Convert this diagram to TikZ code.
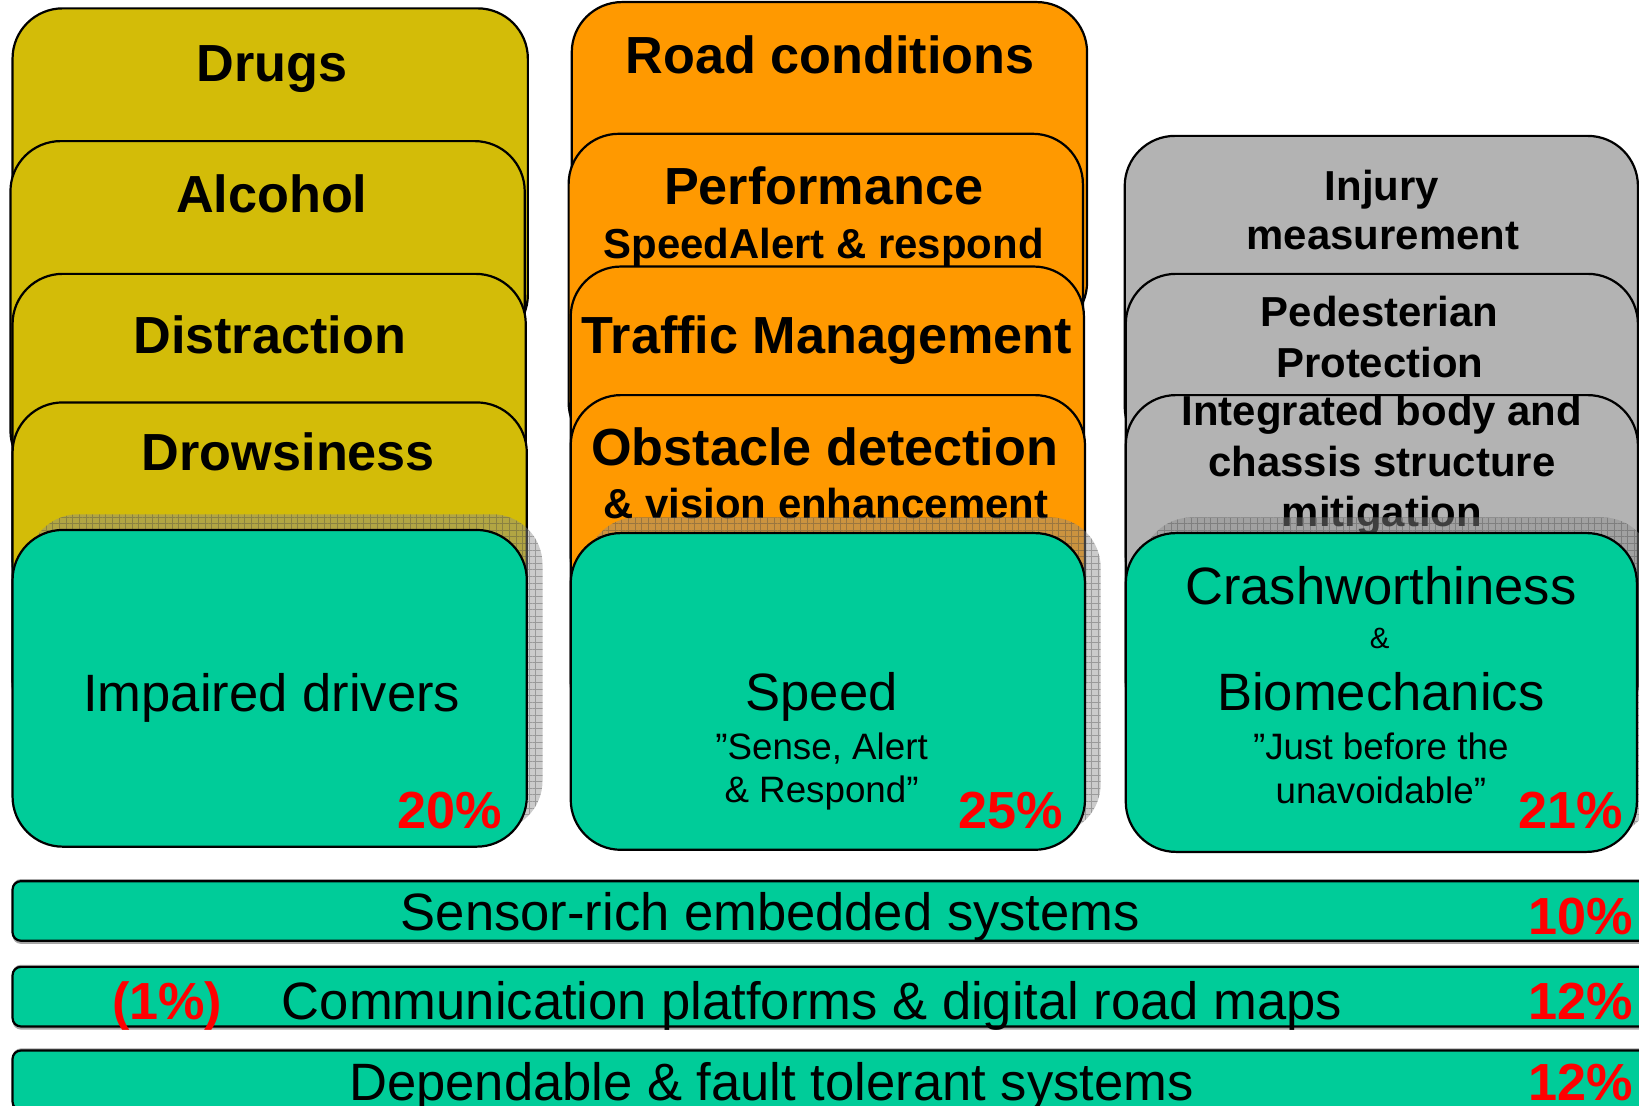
\documentclass[tikz,border=0pt]{standalone}
\usepackage{fontspec}
\setmainfont{Liberation Sans}
\usetikzlibrary{patterns.meta}
\definecolor{cyel}{HTML}{D3BC08}
\definecolor{corg}{HTML}{FF9900}
\definecolor{cgry}{HTML}{B3B3B3}
\definecolor{cgrn}{HTML}{00CC99}
\definecolor{cred}{HTML}{FF0000}
\tikzset{
  cardbox/.style={draw=black, line width=0.6pt, rounded corners=0.48cm},
  barbox/.style={draw=black, line width=0.6pt, rounded corners=0.08cm, fill=cgrn},
  shadowfill/.style={fill=gray!90, opacity=0.45, rounded corners=0.48cm},
  shadowgrid/.style={pattern={Hatch[angle=0,distance=1.8pt,line width=0.25pt]}, pattern color=gray!50!black, opacity=0.35, rounded corners=0.48cm},
  txt/.style={anchor=base, inner sep=0pt},
  bighead/.style={txt, font=\fontsize{14.2pt}{17pt}\selectfont\bfseries},
  midhead/.style={txt, font=\fontsize{11.4pt}{13.5pt}\selectfont\bfseries},
  regbig/.style={txt, font=\fontsize{14.3pt}{17pt}\selectfont},
  regsmall/.style={txt, font=\fontsize{10pt}{12pt}\selectfont},
  regtiny/.style={txt, font=\fontsize{8pt}{10pt}\selectfont},
  pct/.style={txt, font=\fontsize{14.2pt}{17pt}\selectfont\bfseries, text=cred},
}
\begin{document}
\begin{tikzpicture}[x=0.01cm, y=-0.01cm]
\useasboundingbox (0,0) rectangle (1568,1058);
\clip (0,0) rectangle (1568,1058);
\fill[white] (0,0) rectangle (1568,1058);

% ---------- yellow column ----------
\draw[cardbox, fill=cyel] (12,8) rectangle (505,330);
\node[bighead] (drugs) at (260,78) {Drugs};
\draw[cardbox, fill=cyel] (10,135) rectangle (502,460);
\node[bighead] (alcohol) at (260,203) {Alcohol};
\draw[cardbox, fill=cyel] (12,262) rectangle (503,585);
\node[bighead] (distraction) at (258,338) {Distraction};
\draw[cardbox, fill=cyel] (12,385) rectangle (504,700);
\node[bighead] (drowsiness) at (276,450) {Drowsiness};

% ---------- orange column ----------
\draw[cardbox, fill=corg] (547,2) rectangle (1040,318);
\node[bighead] (road) at (794,70) {Road conditions};
\draw[cardbox, fill=corg] (544,128) rectangle (1036,433);
\node[bighead] (perf) at (788,196) {Performance};
\node[midhead] (perfsub) at (788,247) {SpeedAlert \& respond};
\draw[cardbox, fill=corg] (546,255) rectangle (1037,580);
\node[bighead] (traffic) at (791,338) {Traffic Management};
\draw[cardbox, fill=corg] (546,378) rectangle (1038,700);
\node[bighead] (obst) at (789,445) {Obstacle detection};
\node[midhead] (obstsub) at (790,496) {\& vision enhancement};

% ---------- gray column ----------
\draw[cardbox, fill=cgry] (1076,130) rectangle (1567,437);
\node[midhead] (inj1) at (1322,192) {Injury};
\node[midhead] (inj2) at (1323,239) {measurement};
\draw[cardbox, fill=cgry] (1077,262) rectangle (1567,580);
\node[midhead] (ped1) at (1320,312) {Pedesterian};
\node[midhead] (ped2) at (1320,361) {Protection};
\draw[cardbox, fill=cgry] (1077,378) rectangle (1567,700);
\node[midhead] (int1) at (1322,407) {Integrated body and};
\node[midhead] (int2) at (1322,456) {chassis structure};
\node[midhead] (int3) at (1322,504) {mitigation};

% ---------- shadows ----------
\fill[shadowfill] (27,492) rectangle (519,795);
\fill[shadowgrid] (27,492) rectangle (519,795);
\fill[shadowfill] (561,495) rectangle (1053,798);
\fill[shadowgrid] (561,495) rectangle (1053,798);
\fill[shadowfill] (1092,495) rectangle (1581,800);
\fill[shadowgrid] (1092,495) rectangle (1581,800);

% ---------- green cards ----------
\draw[cardbox, fill=cgrn] (12,507) rectangle (504,810);
\node[regbig] (impaired) at (260,681) {Impaired drivers};
\node[pct] (p20) at (430,793) {20\%};

\draw[cardbox, fill=cgrn] (546,510) rectangle (1038,813);
\node[regbig] (speed) at (786,680) {Speed};
\node[regsmall] (speed2) at (786,727) {”Sense, Alert};
\node[regsmall] (speed3) at (786,768) {\& Respond”};
\node[pct] (p25) at (967,793) {25\%};

\draw[cardbox, fill=cgrn] (1077,510) rectangle (1566,815);
\node[regbig] (crash) at (1321,578) {Crashworthiness};
\node[regtiny] (amp) at (1320,620) {\&};
\node[regbig] (bio) at (1321,680) {Biomechanics};
\node[regsmall] (bio2) at (1321,727) {”Just before the};
\node[regsmall] (bio3) at (1321,769) {unavoidable”};
\node[pct] (p21) at (1503,793) {21\%};

% ---------- bars ----------
\foreach \t in {843,925,1005}{
  \fill[gray!70, rounded corners=0.08cm] (12,\t-2) rectangle (1600,\t+60);
}
\draw[barbox] (12,843) rectangle (1600,900);
\node[regbig] (sensor) at (737,890) {Sensor-rich embedded systems};
\node[pct, anchor=base east] (p10) at (1563,894) {10\%};

\draw[barbox] (12,925) rectangle (1600,982);
\node[pct] (p1) at (160,975) {(1\%)};
\node[regbig] (comm) at (777,975) {Communication platforms \& digital road maps};
\node[pct, anchor=base east] (p12a) at (1563,975) {12\%};

\draw[barbox] (12,1005) rectangle (1600,1062);
\node[regbig] (dep) at (738,1053) {Dependable \& fault tolerant systems};
\node[pct, anchor=base east] (p12b) at (1563,1053) {12\%};
\end{tikzpicture}
\end{document}
